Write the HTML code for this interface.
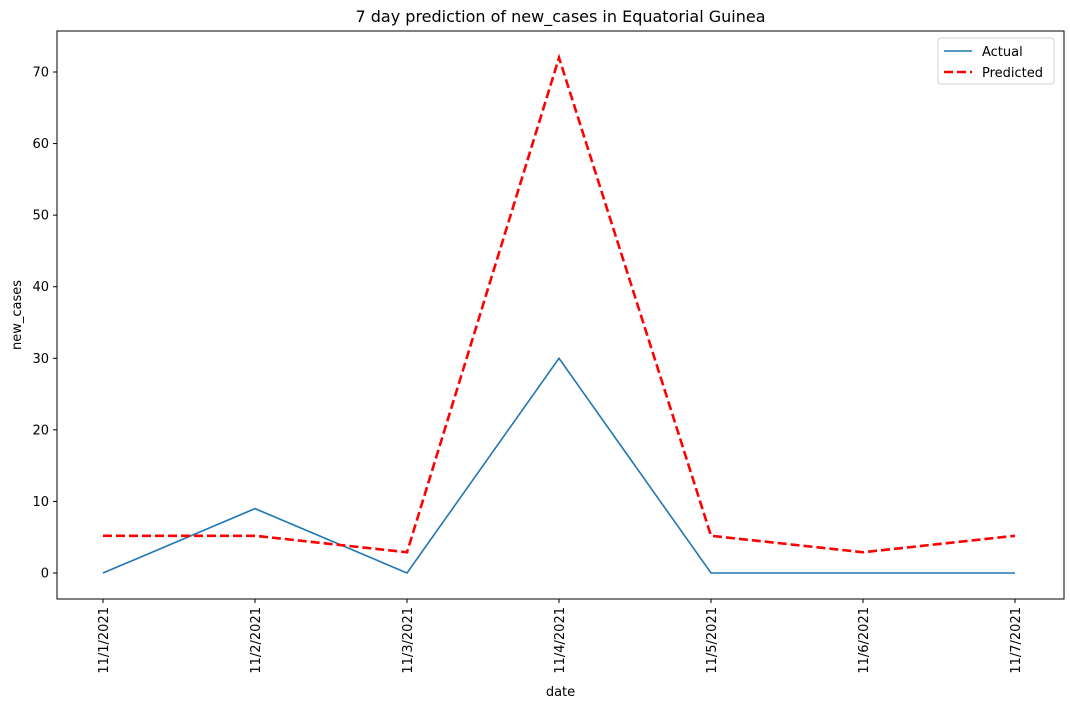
<!DOCTYPE html>
<html><head><meta charset="utf-8"><style>
body{margin:0;background:#fff;font-family:"Liberation Sans","DejaVu Sans",sans-serif;}
svg text{font-family:"DejaVu Sans","Liberation Sans",sans-serif;}
</style></head><body>
<svg id="chart" width="1070" height="709" xmlns="http://www.w3.org/2000/svg"></svg>
<script>
const categories = ["11/1/2021","11/2/2021","11/3/2021","11/4/2021","11/5/2021","11/6/2021","11/7/2021"];
const actualValues = [0, 9, 0, 30, 0, 0, 0];
const predictedValues = [5.2, 5.2, 2.9, 72, 5.2, 2.9, 5.2];
const yTicks = [0, 10, 20, 30, 40, 50, 60, 70];

const svg = document.getElementById('chart');
const NS = "http://www.w3.org/2000/svg";
const L = 57, R = 1064, T = 31, B = 599;
const x0 = 103, x1 = 1015;
function xs(i){ return x0 + (x1 - x0) * i / (categories.length - 1); }
function ys(v){ return 573 - v * (501 / 70); }
function mk(tag, attrs, text){
  const e = document.createElementNS(NS, tag);
  for (const k in attrs) e.setAttribute(k, attrs[k]);
  if (text !== undefined) e.textContent = text;
  svg.appendChild(e);
  return e;
}
let e;
e = mk('rect', {x:L, y:T, width:R-L, height:B-T, fill:'#fff', stroke:'#000', 'stroke-width':1});



yTicks.forEach(v => {
  const y = ys(v);
  e = mk('line', {x1:L-4, x2:L, y1:y, y2:y, stroke:'#000'});
  
  
  e = mk('text', {x:L-8, y:y+4.5, 'text-anchor':'end', 'font-size':13, fill:'#000'}, String(v));
  
  
});
categories.forEach((c, i) => {
  const x = xs(i);
  e = mk('line', {x1:x, x2:x, y1:B, y2:B+4, stroke:'#000'});
  
  
  e = mk('text', {x:0, y:0, 'text-anchor':'end', 'font-size':13, fill:'#000', transform:`translate(${x+5},${B+8}) rotate(-90)`}, c);
  
  
});

e = mk('polyline', {points: actualValues.map((v,i)=>xs(i)+','+ys(v)).join(' '), fill:'none', stroke:'#1f77b4', 'stroke-width':1.6});


e = mk('polyline', {points: predictedValues.map((v,i)=>xs(i)+','+ys(v)).join(' '), fill:'none', stroke:'#ff0000', 'stroke-width':2.6, 'stroke-dasharray':'9,4'});



e = mk('text', {x:(L+R)/2, y:22, 'text-anchor':'middle', 'font-size':16, fill:'#000'}, '7 day prediction of new_cases in Equatorial Guinea');


e = mk('text', {x:(L+R)/2, y:696, 'text-anchor':'middle', 'font-size':13, fill:'#000'}, 'date');


e = mk('text', {x:0, y:0, 'text-anchor':'middle', 'font-size':13, fill:'#000', transform:`translate(21,${(T+B)/2}) rotate(-90)`}, 'new_cases');



e = mk('rect', {x:938, y:38, width:116, height:46, rx:3, fill:'#fff', stroke:'#d0d0d0'});


e = mk('line', {x1:944, x2:972, y1:51, y2:51, stroke:'#1f77b4', 'stroke-width':1.6});


e = mk('text', {x:982, y:56, 'font-size':13, fill:'#000'}, 'Actual');


e = mk('line', {x1:944, x2:972, y1:72, y2:72, stroke:'#ff0000', 'stroke-width':2.6, 'stroke-dasharray':'9,4'});


e = mk('text', {x:982, y:77, 'font-size':13, fill:'#000'}, 'Predicted');


</script>
</body></html>
